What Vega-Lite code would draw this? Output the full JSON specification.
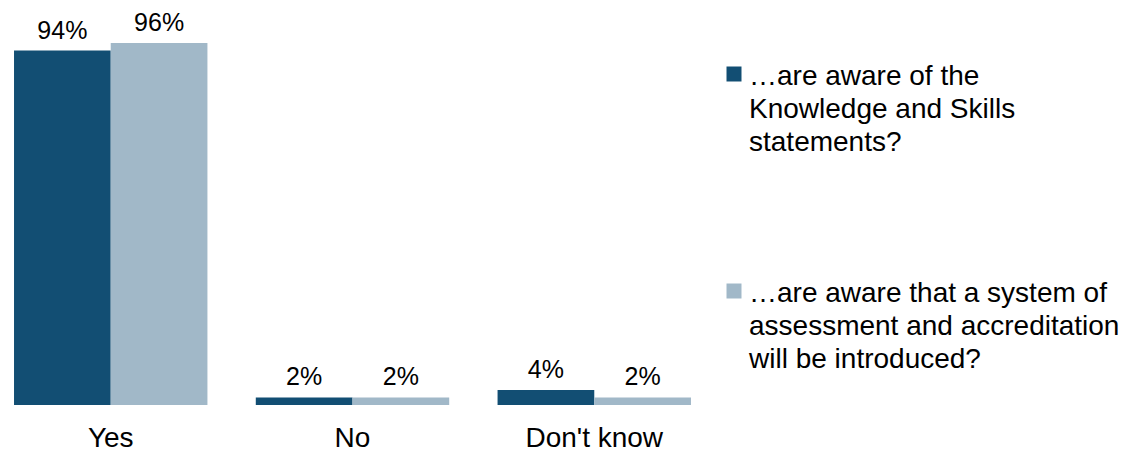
{
  "$schema": "https://vega.github.io/schema/vega-lite/v6.json",
  "width": 705,
  "height": 377,
  "autosize": {"type": "none"},
  "padding": {"left": 0, "top": 28, "right": 437, "bottom": 47},
  "background": "white",
  "config": {
    "view": {"stroke": null},
    "font": "Liberation Sans"
  },
  "data": {
    "values": [
      {"answer": "Yes", "series": "a", "value": 0.94},
      {"answer": "Yes", "series": "b", "value": 0.96},
      {"answer": "No", "series": "a", "value": 0.02},
      {"answer": "No", "series": "b", "value": 0.02},
      {"answer": "Don't know", "series": "a", "value": 0.04},
      {"answer": "Don't know", "series": "b", "value": 0.02}
    ]
  },
  "encoding": {
    "x": {
      "field": "answer",
      "type": "nominal",
      "sort": ["Yes", "No", "Don't know"],
      "scale": {"paddingInner": 0.2, "paddingOuter": 0.058},
      "axis": {
        "title": null,
        "labelAngle": 0,
        "labelFontSize": 28,
        "labelColor": "#000000",
        "labelPadding": 19,
        "ticks": false,
        "domain": false,
        "labelFont": "Liberation Sans"
      }
    },
    "xOffset": {
      "field": "series",
      "type": "nominal",
      "scale": {"paddingInner": 0, "paddingOuter": 0}
    },
    "y": {
      "field": "value",
      "type": "quantitative",
      "scale": {"domain": [0, 1], "nice": false},
      "axis": null
    }
  },
  "layer": [
    {
      "mark": {"type": "bar"},
      "encoding": {
        "color": {
          "field": "series",
          "type": "nominal",
          "scale": {"domain": ["a", "b"], "range": ["#124E73", "#A1B8C8"]},
          "legend": {
            "title": null,
            "orient": "none",
            "legendX": 720,
            "legendY": 32,
            "symbolType": "square",
            "symbolSize": 225,
            "symbolOpacity": 1,
            "symbolStrokeWidth": 0,
            "labelFontSize": 28,
            "labelColor": "#000000",
            "labelFont": "Liberation Sans",
            "labelLimit": 0,
            "labelOffset": 1,
            "labelBaseline": "top",
            "rowPadding": 120,
            "labelExpr": "datum.value == 'a' ? ['…are aware of the', 'Knowledge and Skills', 'statements?'] : ['…are aware that a system of', 'assessment and accreditation', 'will be introduced?']",
            "encode": {
              "labels": {
                "update": {
                  "lineHeight": {"value": 33},
                  "dy": {"value": -11}
                }
              }
            }
          }
        }
      }
    },
    {
      "mark": {"type": "text", "fontSize": 25, "dy": -12, "baseline": "alphabetic", "color": "#000000", "font": "Liberation Sans"},
      "encoding": {
        "text": {"field": "value", "type": "quantitative", "format": ".0%"},
        "detail": {"field": "series"}
      }
    }
  ]
}
